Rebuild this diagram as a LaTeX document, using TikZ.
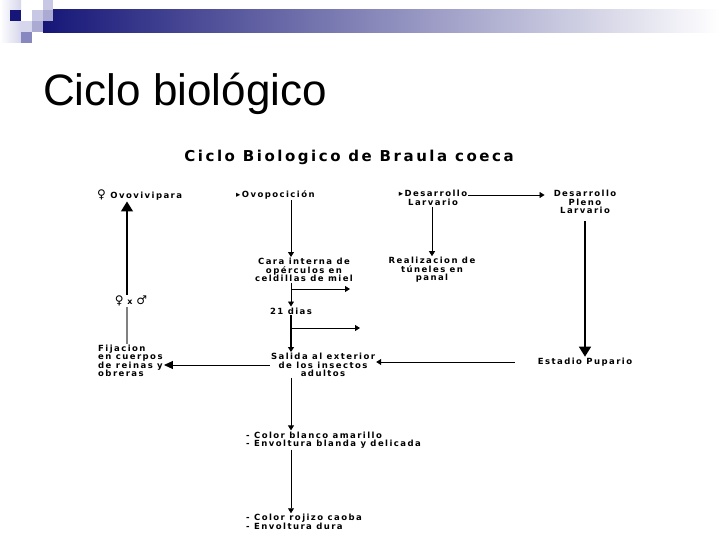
\documentclass[tikz,border=0pt]{standalone}
\usepackage{fontspec}
\setmainfont{Liberation Sans}
\newfontfamily\diagfont[LetterSpace=17]{DejaVu Sans Bold}
\newfontfamily\symfont{DejaVu Sans}
\usepackage{tikz}
\usetikzlibrary{arrows.meta,positioning,calc}

\definecolor{navy}{RGB}{22,22,120}
\definecolor{bandmid}{RGB}{168,168,192}
\definecolor{sqpale}{RGB}{214,214,236}
\definecolor{sqlight}{RGB}{200,200,228}
\definecolor{sqmid}{RGB}{170,170,210}
\definecolor{sqdark}{RGB}{136,136,192}

\begin{document}
\begin{tikzpicture}[x=1pt, y=-1pt,
  lbl/.style={font=\diagfont\fontsize{8.5}{8.5}\selectfont,
              align=center, inner sep=1pt},
  lbll/.style={lbl, align=left},
  arr/.style={->, >={Triangle[width=6pt,length=5pt]}, line width=0.8pt},
  bigarr/.style={->, >={Triangle[width=12pt,length=10pt]}, line width=1.4pt},
  sym/.style={font=\symfont\fontsize{12}{12}\selectfont, inner sep=1pt}
]
\useasboundingbox (0,0) rectangle (720,540);

% header band and squares
\fill[left color=navy, middle color=bandmid, right color=white]
  (43,10) rectangle (720,33);
\fill[left color=white, right color=sqpale] (0,0) rectangle (21,43);
\fill[navy]    (10,10) rectangle (21,21);
\fill[white]   (21,10) rectangle (32,21);
\fill[sqlight] (32,10) rectangle (43,21);
\fill[sqlight] (43,0)  rectangle (53,10);
\fill[sqmid]   (43,10) rectangle (53,21);
\fill[sqpale]  (21,21) rectangle (32,32);
\fill[sqmid]   (32,21) rectangle (43,32);
\fill[sqdark]  (21,32) rectangle (32,43);

\node[anchor=base west, inner sep=0pt, font=\fontsize{44}{48}\selectfont]
  (title) at (43,105.5) {Ciclo biológico};

% diagram
\node[font=\diagfont\fontsize{15}{16}\selectfont]
  (dtitle) at (349,157) {Ciclo Biologico de Braula coeca};
\node[lbll, anchor=west] (ovovi)  at (96,195)
  {{\symfont\fontsize{12}{12}\selectfont ♀}\ Ovovivipara};
\node[lbl, anchor=west]  (ovopos) at (235,195) {{\symfont ▸}\,Ovopocición};
\node[lbl]  (deslarv) at (433,198) {{\symfont ▸}\,Desarrollo\\Larvario};
\node[lbl]  (pleno)   at (585,202) {Desarrollo\\Pleno\\Larvario};
\node[lbl]  (cara)    at (304,270) {Cara interna de\\opérculos en\\celdillas de miel};
\node[lbl]  (realiz)  at (432,270) {Realizacion de\\túneles en\\panal};
\node[lbl]  (dias)    at (291,311) {21 dias};
\node[lbl]  (salida)  at (323,365) {Salida al exterior\\de los insectos\\adultos};
\node[lbl]  (pupario) at (585,362) {Estadio Pupario};
\node[lbll, anchor=west] (fijac) at (97,361)
  {Fijacion\\en cuerpos\\de reinas y\\obreras};
\node[sym]  (sexes)   at (131,301) {♀ {\diagfont\fontsize{8}{8}\selectfont x} ♂};
\node[lbll, anchor=west] (color1) at (245,440)
  {- Color blanco amarillo\\- Envoltura blanda y delicada};
\node[lbll, anchor=west] (color2) at (245,522)
  {- Color rojizo caoba\\- Envoltura dura};
\coordinate (out1) at (350,289);
\coordinate (out2) at (360,328);

% connectors
\draw[bigarr] ([xshift=-4pt]sexes.north) -- ([xshift=-4pt]sexes.north |- ovovi.south);
\draw[gray, line width=1.4pt] ([xshift=-4pt]sexes.south |- fijac.north) -- ([xshift=-4pt]sexes.south);
\draw[arr] (ovopos.south -| dias) -- (cara.north -| dias);
\draw[arr] (cara.south -| dias) -- (dias.north);
\draw[arr] (out1 -| dias) -- (out1);
\draw[arr, line width=1.4pt] (dias.south) -- (salida.north -| dias);
\draw[arr] (out2 -| dias) -- (out2);
\draw[arr] (deslarv.south -| realiz) -- (realiz.north);
\draw[arr, shorten >=8pt] ([yshift=3pt]deslarv.east) -- ([yshift=3pt]pleno.west |- deslarv.east);
\draw[bigarr, shorten <=6pt] (pleno.south) -- (pupario.north);
\draw[arr, shorten <=22pt] (pupario.west) -- (salida.east |- pupario.west);
\draw[bigarr, line width=0.9pt, >={Triangle[width=8pt,length=9pt]}] (salida.west) -- (fijac.east |- salida.west);
\draw[arr] (salida.south -| dias) -- (color1.north -| dias);
\draw[arr] (color1.south -| dias) -- (color2.north -| dias);
\end{tikzpicture}
\end{document}
